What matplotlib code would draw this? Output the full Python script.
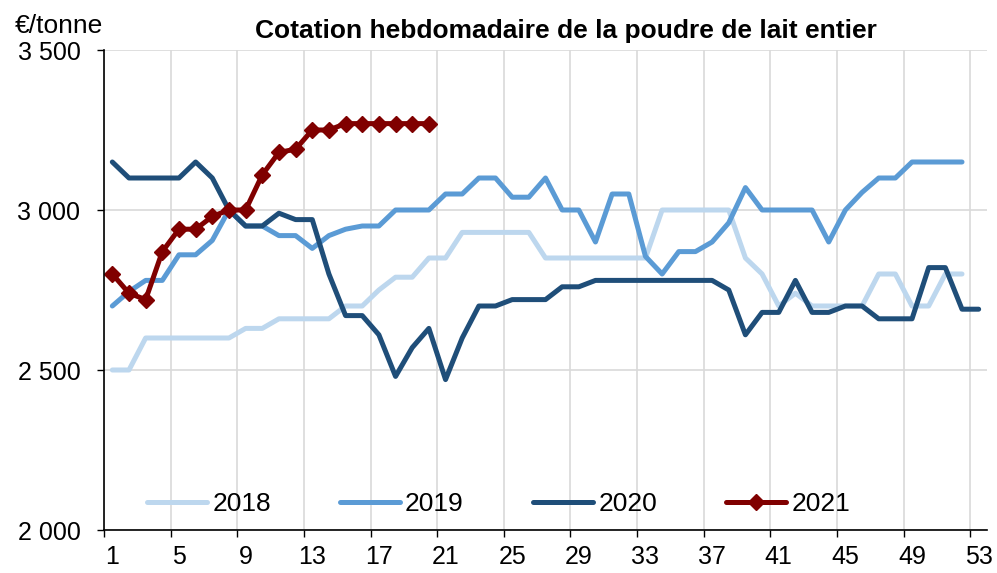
import matplotlib
matplotlib.use('Agg')
import matplotlib.pyplot as plt
import numpy as np
from matplotlib.ticker import FixedLocator, FuncFormatter

plt.rcParams['font.family'] = ['Liberation Sans', 'DejaVu Sans']

title = "Cotation hebdomadaire de la poudre de lait entier"
unit_label = "€/tonne"
series_names = ["2018", "2019", "2020", "2021"]
week_tick_labels = list(range(1, 54, 4))
y_ticks = [2000, 2500, 3000, 3500]

s2018 = [2500, 2500, 2600, 2600, 2600, 2600, 2600, 2600, 2630, 2630,
         2660, 2660, 2660, 2660, 2700, 2700, 2750, 2790, 2790, 2850,
         2850, 2930, 2930, 2930, 2930, 2930, 2850, 2850, 2850, 2850,
         2850, 2850, 2850, 3000, 3000, 3000, 3000, 3000, 2850, 2800,
         2700, 2740, 2700, 2700, 2700, 2700, 2800, 2800, 2700, 2700,
         2800, 2800]
s2019 = [2700, 2745, 2780, 2780, 2860, 2860, 2905, 3000, 2950, 2950,
         2920, 2920, 2880, 2920, 2940, 2950, 2950, 3000, 3000, 3000,
         3050, 3050, 3100, 3100, 3040, 3040, 3100, 3000, 3000, 2900,
         3050, 3050, 2855, 2800, 2870, 2870, 2900, 2960, 3070, 3000,
         3000, 3000, 3000, 2900, 3000, 3055, 3100, 3100, 3150, 3150,
         3150, 3150]
s2020 = [3150, 3100, 3100, 3100, 3100, 3150, 3100, 3000, 2950, 2950,
         2990, 2970, 2970, 2800, 2670, 2670, 2610, 2480, 2570, 2630,
         2470, 2600, 2700, 2700, 2720, 2720, 2720, 2760, 2760, 2780,
         2780, 2780, 2780, 2780, 2780, 2780, 2780, 2750, 2610, 2680,
         2680, 2780, 2680, 2680, 2700, 2700, 2660, 2660, 2660, 2820,
         2820, 2690, 2690]
s2021 = [2800, 2740, 2720, 2870, 2940, 2940, 2980, 3000, 3000, 3110,
         3180, 3190, 3250, 3250, 3270, 3270, 3270, 3270, 3270, 3270]

colors = ["#BDD7EE", "#5B9BD5", "#1F4E79", "#800000"]

W, H = 997, 573
fig = plt.figure(figsize=(W / 100, H / 100), dpi=100)
ax = fig.add_axes([104 / W, 43 / H, 883 / W, 480 / H])

all_series = [s2018, s2019, s2020, s2021]
for i, (name, s) in enumerate(zip(series_names, all_series)):
    x = np.arange(1, len(s) + 1)
    kw = dict(color=colors[i], lw=3.6, label=name,
              solid_capstyle='round', solid_joinstyle='round', zorder=3 + i)
    if name == "2021":
        kw.update(marker='D', markersize=8.5, markeredgecolor=colors[i],
                  markerfacecolor=colors[i])
    ax.plot(x, s, **kw)

ax.set_xlim(0.5, 53.5)
ax.set_ylim(2000, 3500)

ax.xaxis.set_major_locator(FixedLocator(np.arange(0.5, 53, 4)))
ax.xaxis.set_minor_locator(FixedLocator(week_tick_labels))
ax.xaxis.set_major_formatter(FuncFormatter(lambda v, p: ""))
ax.xaxis.set_minor_formatter(FuncFormatter(lambda v, p: f"{int(round(v))}"))
ax.tick_params(axis='x', which='major', length=5, width=1, direction='out')
ax.tick_params(axis='x', which='minor', length=0, pad=11, labelsize=18)

ax.set_yticks(y_ticks)
ax.yaxis.set_major_formatter(FuncFormatter(lambda v, p: f"{int(v):,}".replace(",", " ")))
ax.tick_params(axis='y', which='major', length=5, width=1, direction='out',
               pad=12, labelsize=18)

ax.grid(True, which='major', color='#D9D9D9', lw=1.2, zorder=0)
ax.set_axisbelow(True)
for sp in ['top', 'right']:
    ax.spines[sp].set_visible(False)
for sp in ['left', 'bottom']:
    ax.spines[sp].set_color('black')
    ax.spines[sp].set_linewidth(1.2)
    ax.spines[sp].set_zorder(10)

leg = ax.legend(loc='center left', bbox_to_anchor=((147 - 104) / 883, (530 - 504) / 480),
                ncol=4, frameon=False, fontsize=19, handlelength=2.27,
                handletextpad=0.2, columnspacing=2.62, borderpad=0,
                borderaxespad=0, numpoints=1)

fig.text(566 / W, 1 - 38 / H, title, ha='center', va='baseline',
         fontsize=19, fontweight='bold')
fig.text(15 / W, 1 - 33 / H, unit_label, ha='left', va='baseline', fontsize=19)

fig.savefig("out.png", dpi=100)
